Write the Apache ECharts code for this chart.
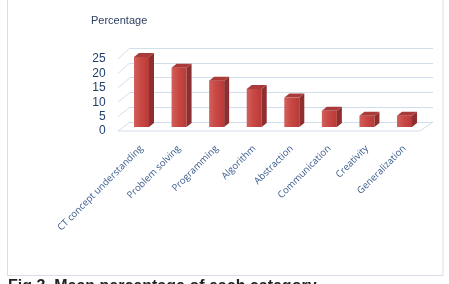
<!DOCTYPE html>
<html><head><meta charset="utf-8">
<script src="https://cdn.jsdelivr.net/npm/echarts@6/dist/echarts.min.js"></script>
<style>html,body{margin:0;padding:0;background:#fff}#c{width:449px;height:284px}</style>
</head><body><div id="c"></div>
<script>
var categories = ['CT concept understanding','Problem solving','Programming','Algorithm','Abstraction','Communication','Creativity','Generalization'];
var percentages = [24.3, 20.6, 16.1, 13.2, 10.2, 5.6, 3.9, 3.9];
var yTicks = [0, 5, 10, 15, 20, 25];
var yTitle = 'Percentage';
var caption = 'Fig 3. Mean percentage of each category';

var chart = echarts.init(document.getElementById('c'));
var navy = '#22406e';
chart.setOption({
  animation: false,
  backgroundColor: '#fff',
  graphic: [
    {type:'rect', shape:{x:7.5,y:-2,width:435.5,height:277.5}, style:{fill:'none', stroke:'#d8dee8', lineWidth:1}, z:0},
    {type:'text', left:8, top:279, style:{text:caption, fill:'#222', font:'bold 16px "Liberation Sans", Arial, sans-serif'}}
  ],
  title: {text: yTitle, left: 86, top: 10, textStyle:{fontSize:11, fontWeight:'normal', color:'#2b3f5f', fontFamily:'"Liberation Sans", "Open Sans", sans-serif'}},
  grid: [
    {left:122.7, right:25.7, top:59, bottom:153},
    {left:130, right:16, top:48, bottom:162}
  ],
  xAxis: [
    {type:'category', gridIndex:0, data:categories, axisLine:{show:false}, axisTick:{show:false},
     axisLabel:{rotate:45, interval:0, margin:16, fontSize:9.5, color:'#3a5a8c', fontFamily:'"Open Sans", "Liberation Sans", sans-serif'}},
    {type:'value', gridIndex:1, min:0, max:1, show:false}
  ],
  yAxis: [
    {type:'value', gridIndex:0, min:0, max:25, interval:5, splitLine:{show:false}, axisLine:{show:false}, axisTick:{show:false},
     axisLabel:{margin:17, fontSize:12, color:navy, fontFamily:'"Liberation Sans", Arial, sans-serif'}},
    {type:'value', gridIndex:1, min:0, max:25, interval:5, axisLabel:{show:false}, axisLine:{show:false}, axisTick:{show:false},
     splitLine:{show:true, lineStyle:{color:'#d3deec', width:1}}}
  ],
  series: [
    {
      type:'custom', xAxisIndex:1, yAxisIndex:1, data: yTicks.map(function(v){return [0, v];}), z:1, silent:true,
      renderItem: function(params, api){
        var v = api.value(1);
        var b = api.coord([0, v]);
        var dy = 9 + 2 * v / 25;
        var ch = [{type:'line', shape:{x1:b[0], y1:b[1], x2:b[0]-12, y2:b[1]+dy}, style:{stroke:'#d3deec', lineWidth:1}}];
        if (v === 0) {
          var r = api.coord([1, 0]);
          ch.push({type:'line', shape:{x1:b[0]-12, y1:b[1]+dy, x2:r[0]-13, y2:r[1]+dy}, style:{stroke:'#d3deec', lineWidth:1}});
          ch.push({type:'line', shape:{x1:r[0]-13, y1:r[1]+dy, x2:r[0], y2:r[1]}, style:{stroke:'#d3deec', lineWidth:1}});
        }
        return {type:'group', children: ch};
      }
    },
    {
      type:'custom', xAxisIndex:0, yAxisIndex:0, data: percentages.map(function(v,i){return [i, v];}), z:3, silent:true,
      renderItem: function(params, api){
        var top = api.coord([api.value(0), api.value(1)]);
        var base = api.coord([api.value(0), 0]);
        var w = 15, dx = 5, dz = 4;
        var x0 = top[0] - 7.5, x1 = x0 + w;
        var yt = top[1] - 4, yb = base[1] - 4;
        return {type:'group', children:[
          {type:'rect', shape:{x:x0, y:yt, width:w, height:yb-yt},
           style:{fill:new echarts.graphic.LinearGradient(0,0,1,0,[{offset:0,color:'#d2605c'},{offset:0.45,color:'#c84844'},{offset:1,color:'#b83a38'}])}},
          {type:'polygon', shape:{points:[[x1,yt],[x1+dx,yt-dz],[x1+dx,yb-dz],[x1,yb]]}, style:{fill:'#8e2e2e'}},
          {type:'polygon', shape:{points:[[x0,yt],[x0+dx,yt-dz],[x1+dx,yt-dz],[x1,yt]]}, style:{fill:'#a93c3a'}}
        ]};
      }
    }
  ]
});
</script></body></html>
